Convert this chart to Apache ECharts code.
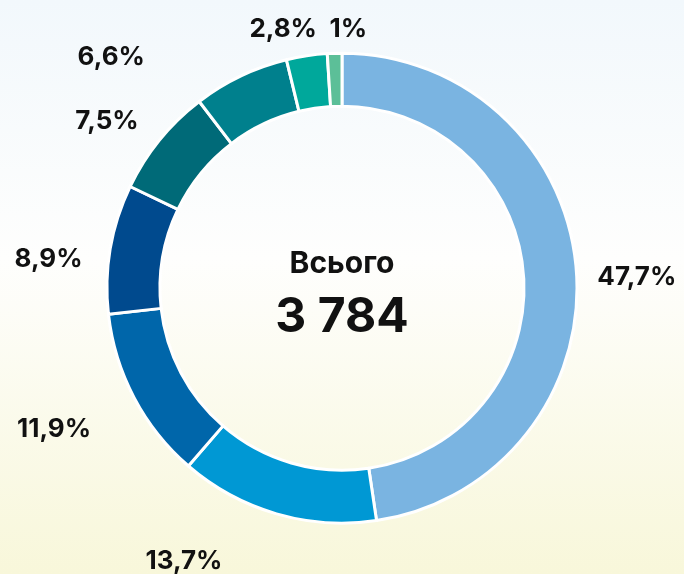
<!DOCTYPE html>
<html>
<head>
<meta charset="utf-8">
<script src="https://cdn.jsdelivr.net/npm/echarts@6/dist/echarts.min.js"></script>
<style>
	html, body { margin: 0; padding: 0; }
	#main { width: 684px; height: 574px; }
</style>
</head>
<body>
<div id="main"></div>
<script>
// частки, %
var shares = [47.7, 13.7, 11.9, 8.9, 7.5, 6.6, 2.8, 1];
var shareLabels = ['47,7%', '13,7%', '11,9%', '8,9%', '7,5%', '6,6%', '2,8%', '1%'];
var colors = ['#7ab4e1', '#0098d4', '#0066aa', '#004a8e', '#006a78', '#00808d', '#00a89b', '#5cbf98'];
var totalTitle = 'Всього';
var totalValue = '3 784';

// зсув підписів відносно стандартного положення
var labelShift = [[-2, 8], [-44, 30], [-22, 23], [-5, 13], [-2, -7], [-83, -3], [18, -9], [38, -6]];

var FONT = 'Inter, "Liberation Sans", Arial, sans-serif';

var myChart = echarts.init(document.getElementById('main'));

var pieData = shares.map(function (v, i) {
	return {
		value: v,
		name: shareLabels[i],
		itemStyle: { color: colors[i] }
	};
});

var option = {
	backgroundColor: {
		type: 'linear', x: 0, y: 0, x2: 0, y2: 1,
		colorStops: [
			{ offset: 0, color: '#f2f8fc' },
			{ offset: 0.45, color: '#fefefd' },
			{ offset: 1, color: '#f8f7da' }
		]
	},
	graphic: [
		{
			type: 'text', left: 'center', top: 249,
			style: { text: totalTitle, font: 'bold 30px ' + FONT, fill: '#111' }
		},
		{
			type: 'text', left: 'center', top: 294,
			style: { text: totalValue, font: 'bold 48px ' + FONT, fill: '#111' }
		}
	],
	series: [{
		type: 'pie',
		center: ['50%', '50.2%'],
		radius: [182, 235],
		startAngle: 90,
		clockwise: true,
		avoidLabelOverlap: false,
		itemStyle: { borderColor: '#fff', borderWidth: 3 },
		label: {
			show: true,
			position: 'outside',
			formatter: '{b}',
			color: '#111',
			fontSize: 26,
			fontWeight: 'bold',
			fontFamily: FONT
		},
		labelLine: { show: false, length: 18, length2: 0 },
		labelLayout: function (params) {
			var s = labelShift[params.dataIndex];
			return { dx: s[0], dy: s[1] };
		},
		emphasis: { disabled: true },
		data: pieData
	}]
};
myChart.setOption(option);
</script>
</body>
</html>
